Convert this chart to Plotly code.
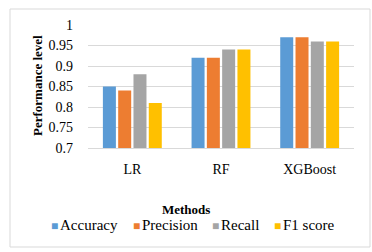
import plotly.graph_objects as go

methods = ["LR", "RF", "XGBoost"]
series_names = ["Accuracy", "Precision", "Recall", "F1 score"]
accuracy = [0.85, 0.92, 0.97]
precision = [0.84, 0.92, 0.97]
recall = [0.88, 0.94, 0.96]
f1_score = [0.81, 0.94, 0.96]
colors = ["#5B9BD5", "#ED7D31", "#A5A5A5", "#FFC000"]
legend_x_px = [50, 132, 211, 273]

FONT = "Liberation Serif, Times New Roman, serif"

fig = go.Figure()
for name, vals, c in zip(series_names, [accuracy, precision, recall, f1_score], colors):
    fig.add_trace(go.Bar(x=methods, y=vals, name=name, marker_color=c, marker_line_width=0,
                         showlegend=False, hoverinfo="skip"))

W, H = 372, 252
L, R, T, B = 88, 18, 25, 104
pw, ph = W - L - R, H - T - B

def px_to_x(px):
    return (px - L) / pw

def px_to_y(py):
    return (H - B - py) / ph

annotations = [
    dict(text="<b>Methods</b>", xref="paper", yref="paper", x=px_to_x(186), y=px_to_y(209),
         showarrow=False, xanchor="center", yanchor="middle", font=dict(family=FONT, size=13)),
    dict(text="<b>Performance level</b>", xref="paper", yref="paper", x=px_to_x(37), y=px_to_y(86),
         showarrow=False, xanchor="center", yanchor="middle", textangle=-90,
         font=dict(family=FONT, size=13)),
]
for name, c, lx in zip(series_names, colors, legend_x_px):
    annotations.append(dict(
        text=f"<span style='color:{c};font-size:12px'>■</span><span style='font-size:7px'> </span>{name}",
        xref="paper", yref="paper", x=px_to_x(lx - 1), y=px_to_y(225),
        showarrow=False, xanchor="left", yanchor="middle",
        font=dict(family=FONT, size=15, color="#000000")))

fig.update_layout(
    width=W, height=H,
    margin=dict(l=L, r=R, t=T, b=B),
    paper_bgcolor="white", plot_bgcolor="white",
    barmode="group", bargap=0.31, bargroupgap=0.15,
    font=dict(family=FONT, size=14, color="#000000"),
    showlegend=False,
    xaxis=dict(showgrid=False, showline=True, linecolor="#D9D9D9", linewidth=1,
               ticks="", ticklabelstandoff=8, tickfont=dict(family=FONT, size=14)),
    yaxis=dict(range=[0.7, 1.0], dtick=0.05, tick0=0.7, showgrid=True, gridcolor="#D9D9D9",
               gridwidth=1, zeroline=False, showline=False, ticks="",
               ticklabelstandoff=14, tickfont=dict(family=FONT, size=14)),
    shapes=[dict(type="rect", xref="paper", yref="paper",
                 x0=px_to_x(10), x1=px_to_x(370), y0=px_to_y(247), y1=px_to_y(9),
                 line=dict(color="#D9D9D9", width=1), fillcolor="rgba(0,0,0,0)", layer="below")],
    annotations=annotations,
)

fig.write_html("out.html", config={"displayModeBar": False, "staticPlot": True},
               post_script="document.body.style.margin='0';document.body.style.overflow='hidden';")
